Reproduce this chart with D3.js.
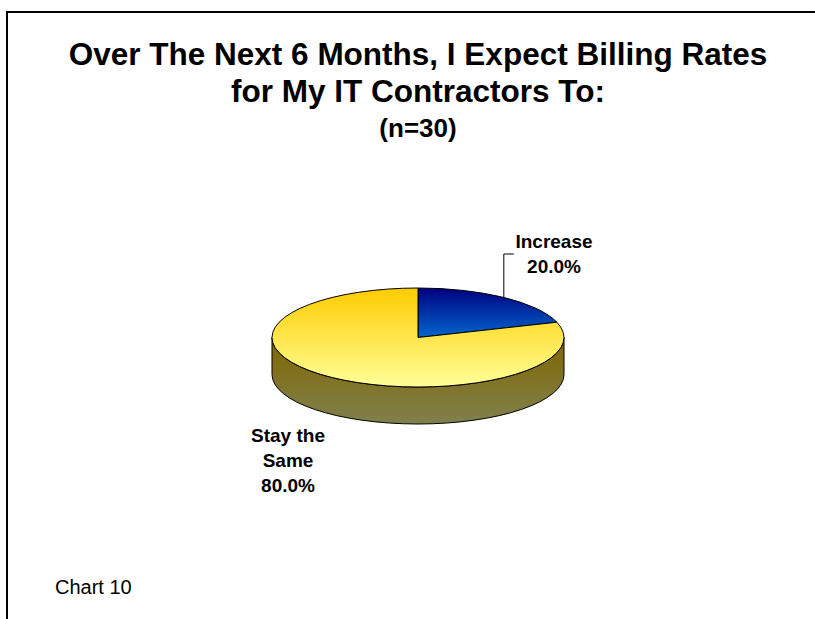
<!DOCTYPE html>
<html>
<head>
<meta charset="utf-8">
<script src="https://cdn.jsdelivr.net/npm/d3@7"></script>
<style>
  html, body { margin: 0; padding: 0; background: #fff; }
  svg { display: block; font-family: "Liberation Sans", Arial, sans-serif; }
</style>
</head>
<body>
<svg id="chart" width="815" height="619"></svg>
<script>
// Survey answers and their shares (percent)
const categories = ["Increase", "Stay the Same"];
const values = [20.0, 80.0];
const labelLines = [["Increase"], ["Stay the", "Same"]];
const titleLines = ["Over The Next 6 Months, I Expect Billing Rates", "for My IT Contractors To:"];
const subtitle = "(n=30)";
const footnote = "Chart 10";

const W = 815, H = 619;
const svg = d3.select("#chart");

// Frame around the chart area
svg.append("path")
  .attr("d", `M7,${H} L7,12 L${W},12`)
  .attr("fill", "none").attr("stroke", "#000").attr("stroke-width", 2);

// Titles
svg.append("text").attr("x", 418).attr("y", 65)
  .attr("text-anchor", "middle").attr("font-weight", "bold").attr("font-size", 31.5)
  .text(titleLines[0]);
svg.append("text").attr("x", 418).attr("y", 102)
  .attr("text-anchor", "middle").attr("font-weight", "bold").attr("font-size", 31.5)
  .text(titleLines[1]);
svg.append("text").attr("x", 418).attr("y", 137)
  .attr("text-anchor", "middle").attr("font-weight", "bold").attr("font-size", 26)
  .text(subtitle);

svg.append("text").attr("x", 55).attr("y", 594)
  .attr("font-size", 20).text(footnote);

// 3-D pie geometry: an ellipse of the top face plus a side wall
const cx = 418, cy = 337.5, rx = 146, ry = 49.5, depth = 37;

const pie = d3.pie().sort(null).value(d => d)
  .startAngle(0).endAngle(2 * Math.PI);
const arcs = pie(values);

// angle measured clockwise from 12 o'clock, projected onto the tilted ellipse
const px = a => cx + rx * Math.sin(a);
const py = (a, dz = 0) => cy - ry * Math.cos(a) + dz;

const defs = svg.append("defs");
function vGrad(id, c0, c1) {
  const g = defs.append("linearGradient").attr("id", id)
    .attr("x1", 0).attr("y1", 0).attr("x2", 0).attr("y2", 1);
  g.append("stop").attr("offset", "0%").attr("stop-color", c0);
  g.append("stop").attr("offset", "100%").attr("stop-color", c1);
}
const topColors = [["#000080", "#0066cc"], ["#ffcc00", "#ffff99"]];
const sideColors = [["#00004a", "#003a77"], ["#806600", "#80804d"]];
topColors.forEach((c, i) => vGrad("top" + i, c[0], c[1]));
sideColors.forEach((c, i) => vGrad("side" + i, c[0], c[1]));

// Side walls: only the front half (90°..270°) faces the viewer
const frontA0 = Math.PI / 2, frontA1 = 3 * Math.PI / 2;
arcs.forEach((d, i) => {
  const a0 = Math.max(d.startAngle, frontA0);
  const a1 = Math.min(d.endAngle, frontA1);
  if (a1 <= a0) return;
  const large = (a1 - a0) > Math.PI ? 1 : 0;
  const p = `M${px(a0)},${py(a0)}`
    + ` A${rx},${ry} 0 ${large} 1 ${px(a1)},${py(a1)}`
    + ` L${px(a1)},${py(a1, depth)}`
    + ` A${rx},${ry} 0 ${large} 0 ${px(a0)},${py(a0, depth)} Z`;
  svg.append("path").attr("d", p)
    .attr("fill", `url(#side${i})`)
    .attr("stroke", "#000").attr("stroke-width", 1).attr("stroke-linejoin", "round");
});

// Top faces
arcs.forEach((d, i) => {
  const a0 = d.startAngle, a1 = d.endAngle;
  const large = (a1 - a0) > Math.PI ? 1 : 0;
  const p = `M${cx},${cy} L${px(a0)},${py(a0)}`
    + ` A${rx},${ry} 0 ${large} 1 ${px(a1)},${py(a1)} Z`;
  svg.append("path").attr("d", p)
    .attr("fill", `url(#top${i})`)
    .attr("stroke", "#000").attr("stroke-width", 1).attr("stroke-linejoin", "round");
});

// Data labels
const fmt = d3.format(".1%");
const labelPos = [{ x: 554, y: 248, leader: true }, { x: 288, y: 442, leader: false }];
const lineH = 25;
arcs.forEach((d, i) => {
  const lp = labelPos[i];
  const lines = labelLines[i].concat([fmt(values[i] / 100)]);
  const t = svg.append("text").attr("text-anchor", "middle")
    .attr("font-weight", "bold").attr("font-size", 19);
  lines.forEach((s, k) => {
    t.append("tspan").attr("x", lp.x).attr("y", lp.y + k * lineH).text(s);
  });
  if (lp.leader) {
    const mid = (d.startAngle + d.endAngle) / 2;
    const ex = px(mid), ey = py(mid);
    svg.append("path")
      .attr("d", `M${ex},${ey} L${ex},254 L${ex + 10},254`)
      .attr("fill", "none").attr("stroke", "#000").attr("stroke-width", 1);
  }
});
</script>
</body>
</html>
